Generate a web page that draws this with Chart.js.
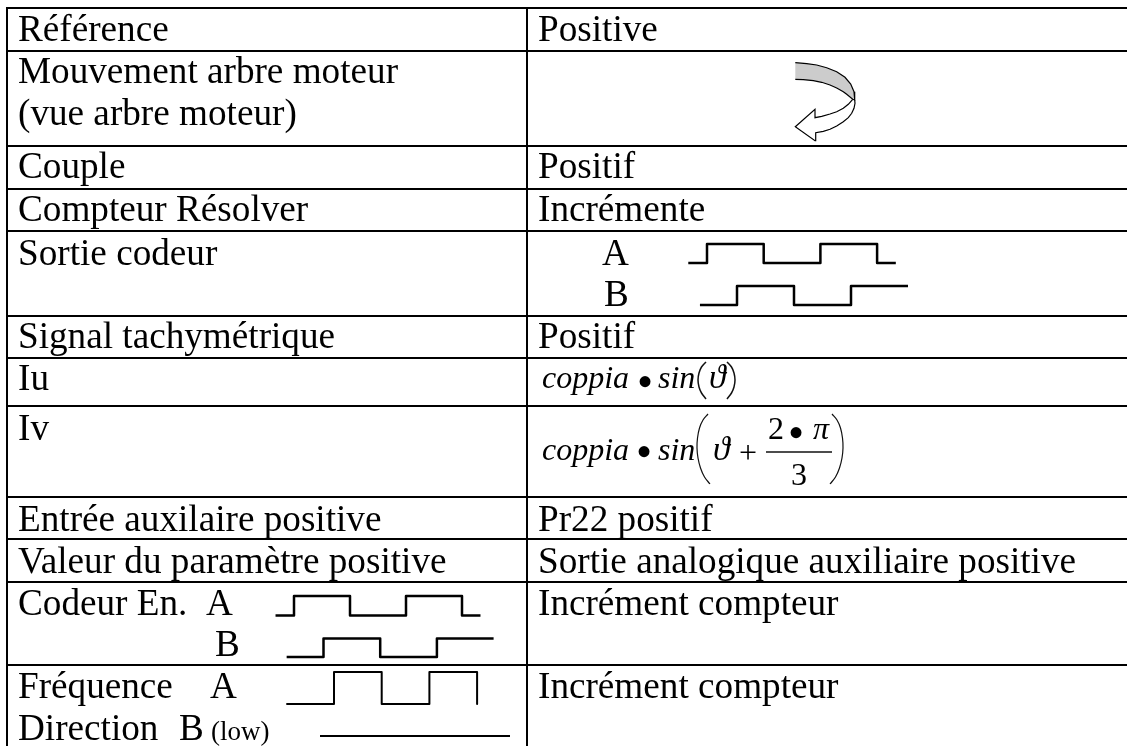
<!DOCTYPE html>
<html>
<head>
<meta charset="utf-8">
<title>Référence</title>
<style>
  body { margin: 0; background: #fff; }
  canvas { display: block; }
</style>
<script src="https://cdn.jsdelivr.net/npm/chart.js@4"></script>
</head>
<body>
<canvas id="tableChart" width="1127" height="746"></canvas>
<script>
// table content
const leftLabels = ['Référence', 'Mouvement arbre moteur', '(vue arbre moteur)', 'Couple', 'Compteur Résolver',
  'Sortie codeur', 'Signal tachymétrique', 'Iu', 'Iv', 'Entrée auxilaire positive',
  'Valeur du paramètre positive', 'Codeur En.', 'Fréquence', 'Direction'];
const rightLabels = ['Positive', 'Positif', 'Incrémente', 'Positif', 'Pr22 positif',
  'Sortie analogique auxiliaire positive', 'Incrément compteur', 'Incrément compteur'];
const signalNames = ['A', 'B', 'A', 'B', 'A', 'B'];

// rules of the table, in page units
const columnRules = [7, 527];
const rowRules = [8, 51, 146, 189, 231, 316, 358, 406, 497, 539, 582, 665];

// signals: time in half periods, level 0 or 1
const quadratureATime = [-0.33, 0, 0, 1, 1, 2, 2, 3, 3, 3.33];
const quadratureALevel = [0, 0, 1, 1, 0, 0, 1, 1, 0, 0];
const quadratureBTime = [-0.65, 0, 0, 1, 1, 2, 2, 3];
const quadratureBLevel = [0, 0, 1, 1, 0, 0, 1, 1];
const frequencyTime = [-1, 0, 0, 1, 1, 2, 2, 3, 3];
const frequencyLevel = [0, 0, 1, 1, 0, 0, 1, 1, 0];
const directionTime = [0, 4];
const directionLevel = [0, 0];

// rotation arrow outline
const bandX = [795.3, 806.7, 816.7, 826.7, 836.7, 845, 850.7, 854, 854.7, 852.7, 846.7, 843.3, 836.7, 830, 821.7, 813.3, 803.3, 795.3];
const bandY = [62.7, 63.7, 65, 67.7, 71.7, 77.3, 84, 91.7, 100, 99.3, 94.3, 91.7, 88, 85, 82.3, 80.7, 79.7, 79.3];
const headX = [852.7, 848.3, 843.3, 836.7, 830, 821.7, 815, 815, 795.3, 815, 815.7, 823.3, 830, 836.7, 843.3, 848.3, 851.7, 854, 855, 854.7];
const headY = [99.3, 104.3, 108.3, 111.7, 114, 116.3, 117.7, 109.3, 126.7, 140.7, 132.7, 131.3, 129.3, 126, 121.7, 117.7, 113.3, 108.3, 103.3, 100];

// brackets of the two formulas
const openBracketX = [708, 703, 699.5, 697.5, 697, 698, 700.5, 704.5, 710];
const closeBracketX = [832, 837, 840.5, 842.5, 843, 842, 839.5, 835.5, 830];
const bracketY = [414, 420, 428, 438, 448, 458, 468, 477, 484];
const smallOpenX = [706, 701.5, 699, 698, 699, 701.5, 706];
const smallCloseX = [727, 731.5, 734, 735, 734, 731.5, 727];
const smallBracketY = [362, 367, 373, 380, 387, 393, 399];

const serif = '"Liberation Serif", "Times New Roman", serif';
const textFont = '37.2px ' + serif;
const mathFont = 'italic 32px ' + serif;
const thetaFont = 'italic 34px ' + serif;
const plainMath = '32px ' + serif;
const bulletFont = '46px ' + serif;

function rule(x1, y1, x2, y2) {
  return {
    data: [{ x: x1, y: y1 }, { x: x2, y: y2 }],
    showLine: true, pointRadius: 0, borderColor: '#000', borderWidth: 2
  };
}

function signal(times, levels, startX, unit, lowY, highY, width) {
  return {
    data: times.map((t, i) => ({ x: startX + t * unit, y: lowY + levels[i] * (highY - lowY) })),
    showLine: true, pointRadius: 0, borderColor: '#000', borderWidth: width, borderJoinStyle: 'round'
  };
}

function shape(xs, ys, fillColor) {
  return {
    data: xs.map((x, i) => ({ x: x, y: ys[i] })),
    showLine: true, pointRadius: 0, borderColor: '#000', borderWidth: 1.2,
    fill: 'shape', backgroundColor: fillColor
  };
}

function curve(xs, ys, width) {
  return {
    data: xs.map((x, i) => ({ x: x, y: ys[i] })),
    showLine: true, pointRadius: 0, borderColor: '#111', borderWidth: width, tension: 0.4
  };
}

const datasets = [];
rowRules.forEach(y => datasets.push(rule(6, y, 1127, y)));
columnRules.forEach(x => datasets.push(rule(x, 7, x, 746)));

datasets.push(signal(quadratureATime, quadratureALevel, 707, 56.7, 263, 244, 2.5));
datasets.push(signal(quadratureBTime, quadratureBLevel, 737, 57, 305, 286, 2.5));
datasets.push(signal(quadratureATime, quadratureALevel, 294, 56, 615.5, 596, 2.5));
datasets.push(signal(quadratureBTime, quadratureBLevel, 323.5, 56.7, 657, 638.5, 2.5));
datasets.push(signal(frequencyTime, frequencyLevel, 334, 47.7, 704, 672, 2));
datasets.push(signal(directionTime, directionLevel, 320, 47.5, 736, 736, 2));

datasets.push(shape(bandX, bandY, '#cccccc'));
datasets.push(shape(headX, headY, '#ffffff'));

datasets.push(curve(openBracketX, bracketY, 1.2));
datasets.push(curve(closeBracketX, bracketY, 1.2));
datasets.push(curve(smallOpenX, smallBracketY, 1.5));
datasets.push(curve(smallCloseX, smallBracketY, 1.5));
datasets.push(curve([766, 832], [452, 452], 1.5));

// text placement: left edge and baseline
const leftPlaces = [[18, 41], [18, 83], [18, 125], [18, 178], [18, 221], [18, 265], [18, 348], [18, 390], [18, 440],
  [18, 531], [18, 573], [18, 615], [18, 698], [18, 740]];
const rightPlaces = [[538, 41], [538, 178], [538, 221], [538, 348], [538, 531], [538, 573], [538, 615], [538, 698]];
const signalPlaces = [[602, 265], [604, 306], [206, 615], [215, 656], [210, 698], [179, 740]];

const tableText = {
  id: 'tableText',
  afterDatasetsDraw(chart) {
    const ctx = chart.ctx;
    const sx = chart.scales.x;
    const sy = chart.scales.y;
    const put = (text, x, y, font, align) => {
      ctx.font = font;
      ctx.textAlign = align || 'left';
      ctx.fillText(text, sx.getPixelForValue(x), sy.getPixelForValue(y));
    };
    ctx.save();
    ctx.fillStyle = '#000';
    ctx.textBaseline = 'alphabetic';
    leftLabels.forEach((t, i) => put(t, leftPlaces[i][0], leftPlaces[i][1], textFont));
    rightLabels.forEach((t, i) => put(t, rightPlaces[i][0], rightPlaces[i][1], textFont));
    signalNames.forEach((t, i) => put(t, signalPlaces[i][0], signalPlaces[i][1], textFont));
    put('(low)', 211, 740, '27px ' + serif);

    // Iu formula
    put('coppia', 542, 388, mathFont);
    put('•', 645, 397, bulletFont, 'center');
    put('sin', 658, 388, mathFont);
    put('ϑ', 709, 388, thetaFont);

    // Iv formula
    put('coppia', 542, 460, mathFont);
    put('•', 644, 467, bulletFont, 'center');
    put('sin', 658, 460, mathFont);
    put('ϑ', 713, 460, thetaFont);
    put('+', 748, 463, plainMath, 'center');
    put('2', 768, 439, plainMath);
    put('•', 796, 448, bulletFont, 'center');
    put('π', 813, 439, mathFont);
    put('3', 791, 485, plainMath);
    ctx.restore();
  }
};

new Chart(document.getElementById('tableChart'), {
  type: 'scatter',
  data: { datasets: datasets },
  plugins: [tableText],
  options: {
    responsive: false,
    animation: false,
    layout: { padding: 0 },
    plugins: { legend: { display: false }, tooltip: { enabled: false } },
    scales: {
      x: { type: 'linear', min: 0, max: 1127, display: false },
      y: { type: 'linear', min: 0, max: 746, reverse: true, display: false }
    }
  }
});
</script>
</body>
</html>
